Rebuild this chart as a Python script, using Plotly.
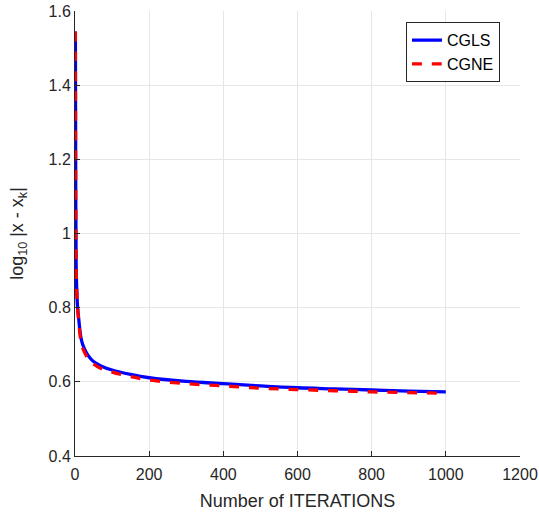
import plotly.graph_objects as go

iterations = [1, 2, 3, 5, 7, 10, 15, 20, 30, 40, 50, 70, 100, 150, 200, 300, 400, 500, 600, 700, 800, 900, 1000]
cgls = [1.545, 1.10, 0.92, 0.84, 0.80, 0.77, 0.725, 0.703, 0.68, 0.665, 0.655, 0.643, 0.632, 0.620, 0.611, 0.601, 0.595, 0.589, 0.584, 0.581, 0.578, 0.575, 0.573]
cgne = [1.545, 1.10, 0.92, 0.84, 0.80, 0.765, 0.715, 0.693, 0.671, 0.658, 0.648, 0.636, 0.626, 0.614, 0.605, 0.595, 0.589, 0.583, 0.579, 0.576, 0.573, 0.571, 0.569]

fig = go.Figure()
fig.add_trace(go.Scatter(x=iterations, y=cgls, mode="lines", name="CGLS",
                         line=dict(color="#0000ff", width=3.3, shape="spline")))
fig.add_trace(go.Scatter(x=iterations, y=cgne, mode="lines", name="CGNE",
                         line=dict(color="#ff0000", width=3.3, dash="dash", shape="spline")))

axis_common = dict(showgrid=True, gridcolor="#e6e6e6", gridwidth=1, zeroline=False,
                   showline=True, linecolor="#262626", linewidth=1, ticks="inside",
                   ticklen=5, tickcolor="#262626", automargin=False,
                   tickfont=dict(size=16, color="#262626"))
fig.update_xaxes(range=[0, 1200], dtick=200, tick0=0, ticklabelstandoff=4,
                 title=dict(text="Number of ITERATIONS", font=dict(size=18, color="#262626"), standoff=12),
                 **axis_common)
fig.update_yaxes(range=[0.4, 1.6],
                 tickvals=[0.4, 0.6, 0.8, 1.0, 1.2, 1.4, 1.6],
                 ticktext=["0.4", "0.6", "0.8", "1", "1.2", "1.4", "1.6"],
                 title=dict(text="log<sub>10</sub> |x - x<sub>k</sub>|", font=dict(size=18, color="#262626"), standoff=20),
                 **axis_common)

fig.update_layout(
    width=539, height=515,
    margin=dict(l=75, r=19, t=11, b=59),
    paper_bgcolor="white", plot_bgcolor="white",
    font=dict(family="Liberation Sans, Arial, sans-serif", color="#262626"),
    showlegend=True,
    legend=dict(x=0.955, y=0.975, xanchor="right", yanchor="top",
                bgcolor="white", bordercolor="#262626", borderwidth=1,
                font=dict(size=16, color="#000000")),
)

fig.write_html("out.html")
